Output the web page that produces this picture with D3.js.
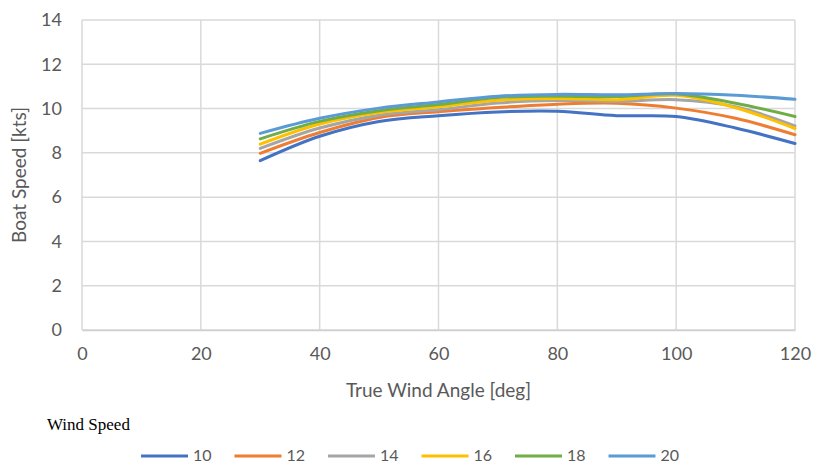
<!DOCTYPE html>
<html><head><meta charset="utf-8">
<script src="https://cdn.jsdelivr.net/npm/d3@7"></script>
<style>body{margin:0;background:#fff}svg{display:block}</style>
</head><body>
<script>
const angles = [30,40,50,60,70,80,90,100,110,120];
const windSpeeds = ["10","12","14","16","18","20"];
const ws10 = [7.65, 8.75, 9.42, 9.68, 9.85, 9.88, 9.68, 9.64, 9.12, 8.42];
const ws12 = [7.98, 8.92, 9.60, 9.86, 10.05, 10.20, 10.24, 10.02, 9.56, 8.82];
const ws14 = [8.20, 9.12, 9.70, 9.95, 10.25, 10.36, 10.32, 10.40, 10.08, 9.22];
const ws16 = [8.39, 9.30, 9.82, 10.08, 10.38, 10.46, 10.40, 10.60, 10.04, 9.10];
const ws18 = [8.63, 9.42, 9.90, 10.18, 10.50, 10.56, 10.54, 10.66, 10.24, 9.64];
const ws20 = [8.88, 9.56, 10.02, 10.30, 10.56, 10.64, 10.62, 10.68, 10.60, 10.42];
const seriesValues = [ws10, ws12, ws14, ws16, ws18, ws20];
const colors = ["#4472C4","#ED7D31","#A5A5A5","#FFC000","#70AD47","#5B9BD5"];
const xTicks = [0,20,40,60,80,100,120];
const yTicks = [0,2,4,6,8,10,12,14];

const W = 813, H = 465;
const m = {left:82, right:18, top:20, bottom:135};
const svg = d3.select("body").append("svg").attr("width",W).attr("height",H);
const x = d3.scaleLinear().domain([0,120]).range([m.left, W-m.right]);
const y = d3.scaleLinear().domain([0,14]).range([H-m.bottom, m.top]);
const font = "Lato,'Noto Sans',sans-serif";
const textCol = "#595959", gridCol = "#d9d9d9";

// gridlines
svg.append("g").selectAll("line").data(yTicks).join("line")
  .attr("x1",x(0)).attr("x2",x(120)).attr("y1",d=>y(d)).attr("y2",d=>y(d))
  .attr("stroke",gridCol).attr("stroke-width",1.5);
svg.append("g").selectAll("line").data(xTicks).join("line")
  .attr("y1",y(0)).attr("y2",y(14)).attr("x1",d=>x(d)).attr("x2",d=>x(d))
  .attr("stroke",gridCol).attr("stroke-width",1.5);

// axes
const xAxis = svg.append("g").attr("transform",`translate(0,${y(0)})`)
  .call(d3.axisBottom(x).tickValues(xTicks).tickSize(0).tickPadding(17));
const yAxis = svg.append("g").attr("transform",`translate(${x(0)},0)`)
  .call(d3.axisLeft(y).tickValues(yTicks).tickSize(0).tickPadding(20));
[xAxis,yAxis].forEach(g=>{
  g.select(".domain").attr("stroke","#d0d0d0").attr("stroke-width",1.5);
  g.selectAll("text").attr("font-family",font).attr("font-size",18).attr("fill",textCol);
});
yAxis.select(".domain").remove();

// lines
const line = d3.line().x((d,i)=>x(angles[i])).y(d=>y(d)).curve(d3.curveCatmullRom.alpha(0.5));
svg.append("g").selectAll("path").data(seriesValues).join("path")
  .attr("d",line).attr("fill","none")
  .attr("stroke",(d,i)=>colors[i]).attr("stroke-width",3).attr("stroke-linecap","round");

// axis titles
svg.append("text").attr("x",(x(0)+x(120))/2).attr("y",397).attr("text-anchor","middle")
  .attr("font-family",font).attr("font-size",19).attr("fill",textCol).text("True Wind Angle [deg]");
svg.append("text").attr("transform",`translate(26,${(y(0)+y(14))/2}) rotate(-90)`)
  .attr("text-anchor","middle").attr("font-family",font).attr("font-size",19).attr("fill",textCol)
  .text("Boat Speed [kts]");

// legend
svg.append("text").attr("x",47).attr("y",430).attr("font-family","'Liberation Serif','DejaVu Serif',serif")
  .attr("font-size",17).attr("fill","#000").text("Wind Speed");
const lg = svg.append("g").selectAll("g").data(windSpeeds).join("g")
  .attr("transform",(d,i)=>`translate(${141 + i*93.5},456)`);
lg.append("line").attr("x1",0).attr("x2",47).attr("y1",0).attr("y2",0)
  .attr("stroke",(d,i)=>colors[i]).attr("stroke-width",3);
lg.append("text").attr("x",52).attr("y",5).attr("font-family",font).attr("font-size",16)
  .attr("fill",textCol).text(d=>d);
</script>
</body></html>
